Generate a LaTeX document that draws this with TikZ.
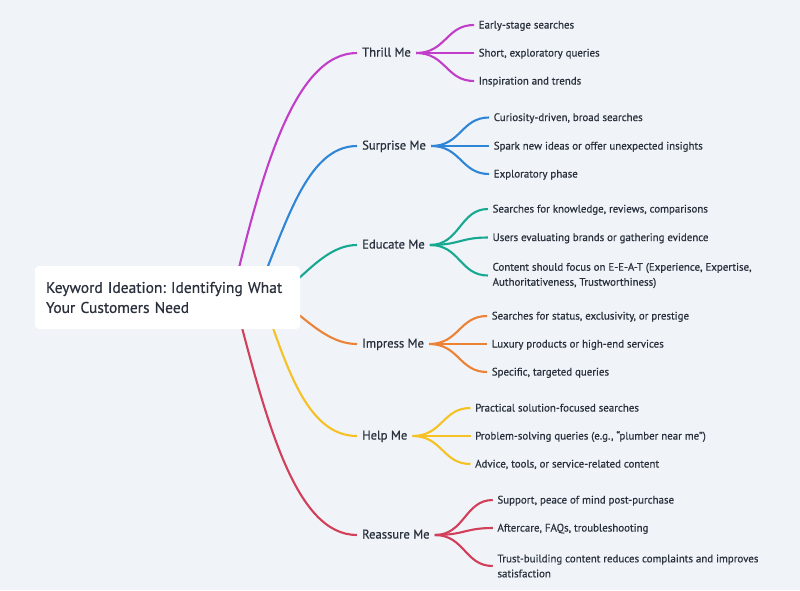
\documentclass[tikz,border=0pt]{standalone}
\usepackage{fontspec}
\setmainfont{PT Sans}[FakeBold=0.6]
\usepackage{xcolor}
\usepackage{tikz}
\usetikzlibrary{positioning}

\definecolor{bgcol}{HTML}{F0F4F8}
\definecolor{ink}{HTML}{2A313D}
\definecolor{cthrill}{HTML}{C23DC8}
\definecolor{csurprise}{HTML}{2F86D6}
\definecolor{ceducate}{HTML}{17A891}
\definecolor{cimpress}{HTML}{EC8236}
\definecolor{chelp}{HTML}{F5C125}
\definecolor{creassure}{HTML}{D23F5A}

\frenchspacing

\begin{document}
\begin{tikzpicture}[
  x=1pt, y=-1pt,
  text=ink,
  root/.style={
    rectangle,
    rounded corners=4pt,
    fill=white,
    minimum width=265pt,
    minimum height=63pt,
    inner xsep=11pt,
    text width=243pt,
    align=left,
    font=\fontsize{15.5}{20}\selectfont
  },
  topic/.style={
    anchor=west,
    inner xsep=5pt,
    text height=0.7em,
    text depth=0pt,
    font=\fontsize{12.6}{15}\selectfont
  },
  leaf/.style={
    inner xsep=4.5pt,
    align=left,
    font=\fontsize{10.9}{15}\selectfont
  },
  oneline/.style={
    text height=0.7em,
    text depth=0pt
  },
  branch/.style={
    line width=2.1pt
  },
  twig/.style={
    line width=2.1pt
  }
]

\fill[bgcol] (0,0) rectangle (800,590);

% Topics
\node[topic] (thrill) at (357,53) {Thrill Me};
\node[topic] (surprise) at (357,146) {Surprise Me};
\node[topic] (educate) at (357,245) {Educate Me};
\node[topic] (impress) at (357,344) {Impress Me};
\node[topic] (helpme) at (357,436) {Help Me};
\node[topic] (reassure) at (357,535) {Reassure Me};

% Leaves
\node[leaf, oneline, right=58pt of thrill, yshift=28pt] (t1) {Early-stage searches};
\node[leaf, oneline, right=58pt of thrill] (t2) {Short, exploratory queries};
\node[leaf, oneline, right=58pt of thrill, yshift=-28pt] (t3) {Inspiration and trends};

\node[leaf, oneline, right=58pt of surprise, yshift=28.5pt] (s1) {Curiosity-driven, broad searches};
\node[leaf, oneline, right=58pt of surprise] (s2) {Spark new ideas or offer unexpected insights};
\node[leaf, oneline, right=58pt of surprise, yshift=-28pt] (s3) {Exploratory phase};

\node[leaf, oneline, right=58pt of educate, yshift=36pt] (e1) {Searches for knowledge, reviews, comparisons};
\node[leaf, oneline, right=58pt of educate, yshift=7.5pt] (e2) {Users evaluating brands or gathering evidence};
\node[leaf, right=58pt of educate, yshift=-30.5pt] (e3) {Content should focus on E-E-A-T (Experience, Expertise,\\Authoritativeness, Trustworthiness)};

\node[leaf, oneline, right=58pt of impress, yshift=28pt] (i1) {Searches for status, exclusivity, or prestige};
\node[leaf, oneline, right=58pt of impress] (i2) {Luxury products or high-end services};
\node[leaf, oneline, right=58pt of impress, yshift=-28pt] (i3) {Specific, targeted queries};

\node[leaf, oneline, right=58pt of helpme, yshift=28pt] (h1) {Practical solution-focused searches};
\node[leaf, oneline, right=58pt of helpme] (h2) {Problem-solving queries (e.g., “plumber near me”)};
\node[leaf, oneline, right=58pt of helpme, yshift=-28pt] (h3) {Advice, tools, or service-related content};

\node[leaf, oneline, right=58pt of reassure, yshift=35pt] (r1) {Support, peace of mind post-purchase};
\node[leaf, oneline, right=58pt of reassure, yshift=7pt] (r2) {Aftercare, FAQs, troubleshooting};
\node[leaf, right=58pt of reassure, yshift=-31pt] (r3) {Trust-building content reduces complaints and improves\\satisfaction};

% Branch starts (hidden under the root box)
\coordinate (thrillstart) at (232,297);
\coordinate (surprisestart) at (255,297);
\coordinate (educatestart) at (270,297);
\coordinate (impressstart) at (270,298);
\coordinate (helpstart) at (262,297);
\coordinate (reassurestart) at (234,297);

% Branches
\draw[branch, cthrill] (thrillstart) .. controls +(30,-127) and +(-62,0) .. (thrill.west);
\draw[branch, csurprise] (surprisestart) .. controls +(30,-67) and +(-52,0) .. (surprise.west);
\draw[branch, ceducate] (educatestart) .. controls +(25,-5) and +(-37,0) .. (educate.west);
\draw[branch, cimpress] (impressstart) .. controls +(25,5) and +(-37,0) .. (impress.west);
\draw[branch, chelp] (helpstart) .. controls +(23,63) and +(-52,0) .. (helpme.west);
\draw[branch, creassure] (reassurestart) .. controls +(32,123) and +(-62,0) .. (reassure.west);

% Twigs
\foreach \l in {t1,t2,t3}
  \draw[twig, cthrill] (thrill.east) .. controls +(30,0) and +(-28,0) .. (\l.west);
\foreach \l in {s1,s2,s3}
  \draw[twig, csurprise] (surprise.east) .. controls +(30,0) and +(-28,0) .. (\l.west);
\foreach \l in {e1,e2,e3}
  \draw[twig, ceducate] (educate.east) .. controls +(30,0) and +(-28,0) .. (\l.west);
\foreach \l in {i1,i2,i3}
  \draw[twig, cimpress] (impress.east) .. controls +(30,0) and +(-28,0) .. (\l.west);
\foreach \l in {h1,h2,h3}
  \draw[twig, chelp] (helpme.east) .. controls +(30,0) and +(-28,0) .. (\l.west);
\foreach \l in {r1,r2,r3}
  \draw[twig, creassure] (reassure.east) .. controls +(30,0) and +(-28,0) .. (\l.west);

% Root
\node[root] (root) at (167.5,297.5) {Keyword Ideation: Identifying What Your Customers Need};

\end{tikzpicture}
\end{document}
